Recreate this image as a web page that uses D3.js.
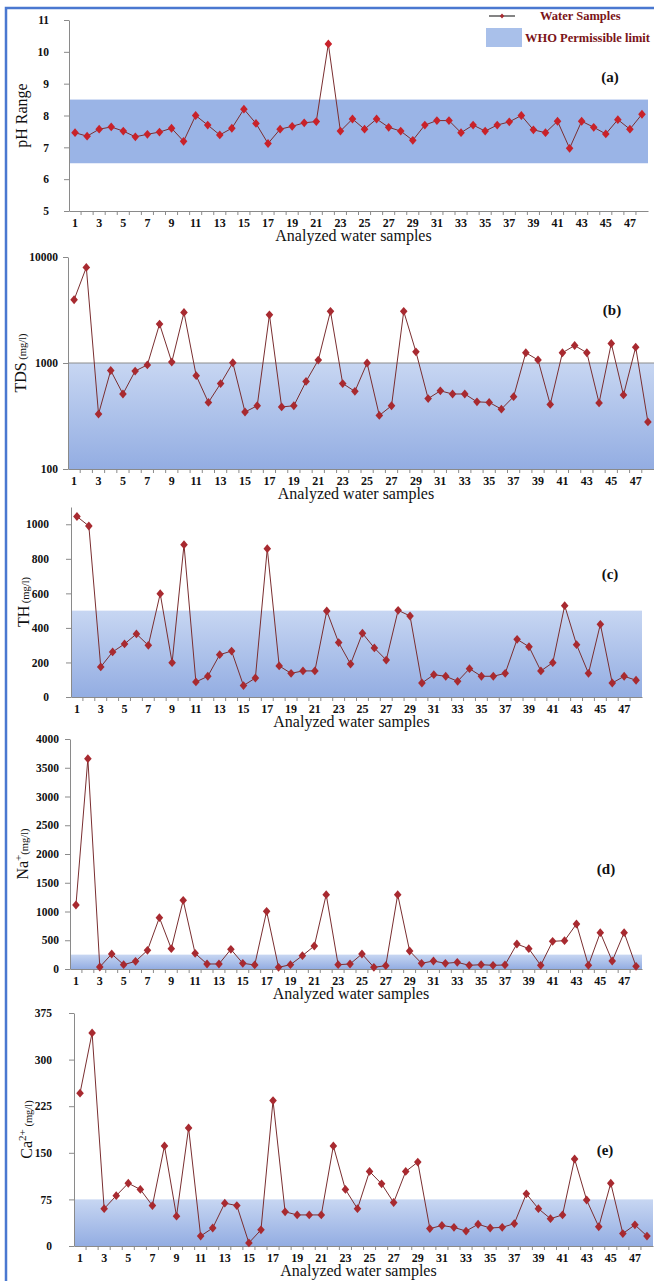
<!DOCTYPE html>
<html>
<head>
<meta charset="utf-8">
<script src="https://cdn.jsdelivr.net/npm/d3@7"></script>
<style>
  body { margin: 0; background: #fff; }
  svg { display: block; font-family: 'Liberation Serif', 'Times New Roman', serif; }
  .axis path, .axis line { stroke: #8a8a8a; }
</style>
</head>
<body>
<div id="chart"></div>
<script>
// sample numbers on the x axis
const samples = [1,2,3,4,5,6,7,8,9,10,11,12,13,14,15,16,17,18,19,20,21,22,23,24,
  25,26,27,28,29,30,31,32,33,34,35,36,37,38,39,40,41,42,43,44,45,46,47,48];

// values
const phValues = [7.46,7.35,7.57,7.64,7.51,7.33,7.41,7.48,7.6,7.19,8.0,7.7,7.39,7.6,8.2,7.75,
  7.12,7.57,7.66,7.77,7.81,10.25,7.51,7.89,7.57,7.89,7.63,7.51,7.22,7.7,7.84,7.84,
  7.46,7.7,7.51,7.7,7.8,8.0,7.55,7.46,7.82,6.97,7.82,7.63,7.42,7.87,7.57,8.04];
const tdsValues = [3950,7980,330,850,510,840,960,2330,1020,3000,760,425,640,1005,345,395,
  2850,385,395,670,1065,3070,640,540,1000,320,395,3070,1275,462,546,510,
  510,430,425,367,481,1250,1068,407,1250,1462,1250,420,1527,500,1409,278];
const thValues = [1045,990,174,261,307,365,299,598,199,882,87,120,245,266,66,110,
  859,180,137,151,151,498,315,191,369,284,214,502,469,81,129,120,
  91,164,120,120,137,334,291,151,199,529,303,137,421,81,120,97];
const naValues = [1113,3658,35,261,75,133,325,893,354,1194,272,87,87,342,99,70,
  1003,29,75,232,400,1293,75,87,261,29,58,1293,313,99,139,99,
  116,64,75,64,70,435,354,64,481,493,783,64,632,139,632,46];
const caValues = [246,343,60,81,101,91,65,161,48,190,16,29,69,65,5,26,
  234,55,50,50,50,161,91,60,120,100,70,120,135,28,33,30,
  24,35,29,30,36,84,60,44,50,140,74,31,101,20,34,16];

// WHO permissible limits (shaded bands)
const phLimit = [6.5, 8.5];
const tdsLimit = [100, 1000];
const thLimit = [0, 500];
const naLimit = [0, 250];
const caLimit = [0, 75];

// y tick labels
const phTicks = [5,6,7,8,9,10,11];
const tdsTicks = [100,1000,10000];
const thTicks = [0,200,400,600,800,1000];
const naTicks = [0,500,1000,1500,2000,2500,3000,3500,4000];
const caTicks = [0,75,150,225,300,375];
const xTickLabels = samples.filter(d => d % 2 === 1);

const serif = "'Liberation Serif', 'Times New Roman', serif";
const width = 654, height = 1281;

const svg = d3.select('#chart').append('svg')
  .attr('width', width)
  .attr('height', height);

const defs = svg.append('defs');
const grad = defs.append('linearGradient')
  .attr('id', 'bandGrad')
  .attr('x1', 0).attr('y1', 0).attr('x2', 0).attr('y2', 1);
grad.append('stop').attr('offset', '0%').attr('stop-color', '#c7d6f2');
grad.append('stop').attr('offset', '100%').attr('stop-color', '#93ade2');

// outer frame
svg.append('rect')
  .attr('x', 6).attr('y', 8)
  .attr('width', 700).attr('height', 1400)
  .attr('fill', 'none')
  .attr('stroke', '#4a78d0')
  .attr('stroke-width', 2.5);

const panels = [
  { values: phValues, limit: phLimit, ticks: phTicks, domain: [5, 11], log: false, solid: true,
    label: [['pH Range', 16, null]], tag: '(a)',
    top: 20, bottom: 211, left: 69, right: 648, pad: 15, tagX: 610, tagY: 77 },
  { values: tdsValues, limit: tdsLimit, ticks: tdsTicks, domain: [100, 10000], log: true, limitLine: true,
    label: [['TDS', 16, null], [' (mg/l)', 10.5, null]], tag: '(b)',
    top: 257, bottom: 469, left: 68, right: 654, pad: 5, tagX: 612, tagY: 310 },
  { values: thValues, limit: thLimit, ticks: thTicks, domain: [0, 1100], log: false,
    label: [['TH', 16, null], [' (mg/l)', 10.5, null]], tag: '(c)',
    top: 507, bottom: 697, left: 71, right: 642, pad: 17, tagX: 610, tagY: 574 },
  { values: naValues, limit: naLimit, ticks: naTicks, domain: [0, 4000], log: false,
    label: [['Na', 16, null], ['+', 11, 'sup'], ['(mg/l)', 10.5, null]], tag: '(d)',
    top: 739, bottom: 969, left: 70, right: 642, pad: 6, tagX: 606, tagY: 869 },
  { values: caValues, limit: caLimit, ticks: caTicks, domain: [0, 375], log: false,
    label: [['Ca', 16, null], ['2+', 11, 'sup'], [' (mg/l)', 10.5, null]], tag: '(e)',
    top: 1013, bottom: 1246, left: 74, right: 653, pad: 17, tagX: 605, tagY: 1150 }
];

const diamond = 'M0,-4.4L3.8,0L0,4.4L-3.8,0Z';

panels.forEach(p => {
  const g = svg.append('g');

  const x = d3.scaleBand().domain(samples).range([p.left, p.right]).padding(0);
  const y = (p.log ? d3.scaleLog() : d3.scaleLinear())
    .domain(p.domain)
    .range([p.bottom, p.top]);

  // WHO band
  g.append('rect')
    .attr('x', p.left)
    .attr('y', y(p.limit[1]))
    .attr('width', p.right - p.left)
    .attr('height', y(p.limit[0]) - y(p.limit[1]))
    .attr('fill', p.solid ? '#9ab4e6' : 'url(#bandGrad)');

  if (p.limitLine) {
    g.append('line')
      .attr('x1', p.left).attr('x2', p.right)
      .attr('y1', y(p.limit[1])).attr('y2', y(p.limit[1]))
      .attr('stroke', '#8c8c8c').attr('stroke-width', 1);
  }

  // y axis
  const yAxis = d3.axisLeft(y)
    .tickValues(p.ticks)
    .tickFormat(d3.format('d'))
    .tickSizeInner(5)
    .tickSizeOuter(0)
    .tickPadding(p.pad);
  const yg = g.append('g')
    .attr('class', 'axis')
    .attr('transform', `translate(${p.left},0)`)
    .call(yAxis)
    .attr('font-family', serif);
  yg.selectAll('text')
    .style('font-family', serif)
    .style('font-weight', 'bold')
    .style('font-size', '11.5px')
    .attr('fill', '#111');

  // x axis (labels on odd samples, tick marks between categories)
  const xAxis = d3.axisBottom(x)
    .tickValues(xTickLabels)
    .tickSize(0)
    .tickPadding(7);
  const xg = g.append('g')
    .attr('class', 'axis')
    .attr('transform', `translate(0,${p.bottom})`)
    .call(xAxis)
    .attr('font-family', serif);
  xg.selectAll('text')
    .style('font-family', serif)
    .style('font-weight', 'bold')
    .style('font-size', '12px')
    .attr('fill', '#111');
  xg.selectAll('.minor')
    .data(samples.slice(1))
    .enter().append('line')
    .attr('class', 'minor')
    .attr('x1', d => x(d)).attr('x2', d => x(d))
    .attr('y1', 0).attr('y2', 4)
    .attr('stroke', '#8a8a8a');

  // series line + markers
  const line = d3.line()
    .x((d, i) => x(samples[i]) + x.bandwidth() / 2)
    .y(d => y(d));
  g.append('path')
    .datum(p.values)
    .attr('d', line)
    .attr('fill', 'none')
    .attr('stroke', '#7a2e30')
    .attr('stroke-width', 1);
  g.selectAll('.pt')
    .data(p.values)
    .enter().append('path')
    .attr('class', 'pt')
    .attr('d', diamond)
    .attr('transform', (d, i) => `translate(${x(samples[i]) + x.bandwidth() / 2},${y(d)})`)
    .attr('fill', p.solid ? '#c8222a' : '#a82a30');

  // x title
  g.append('text')
    .attr('x', (p.left + p.right) / 2 - 5)
    .attr('y', p.bottom + 30)
    .attr('text-anchor', 'middle')
    .style('font-size', '16px')
    .attr('fill', '#111')
    .text('Analyzed water samples');

  // y title
  const yt = g.append('text')
    .attr('transform', `translate(${p.left - 42},${(p.top + p.bottom) / 2}) rotate(-90)`)
    .attr('text-anchor', 'middle')
    .attr('fill', '#111');
  p.label.forEach(part => {
    const ts = yt.append('tspan')
      .style('font-size', part[1] + 'px')
      .text(part[0]);
    if (part[2] === 'sup') ts.attr('baseline-shift', 'super');
  });

  // panel tag
  g.append('text')
    .attr('x', p.tagX).attr('y', p.tagY)
    .attr('text-anchor', 'middle')
    .attr('dominant-baseline', 'central')
    .style('font-size', '15px')
    .style('font-weight', 'bold')
    .attr('fill', '#111')
    .text(p.tag);
});

// legend
const lg = svg.append('g');
lg.append('line')
  .attr('x1', 489).attr('x2', 515).attr('y1', 16).attr('y2', 16)
  .attr('stroke', '#333').attr('stroke-width', 1.2);
lg.append('path')
  .attr('d', 'M0,-2.5L2.2,0L0,2.5L-2.2,0Z')
  .attr('transform', 'translate(502,16)')
  .attr('fill', '#a82a30');
lg.append('text')
  .attr('x', 540).attr('y', 20)
  .style('font-size', '12.5px').style('font-weight', 'bold')
  .attr('fill', '#7a1418')
  .text('Water Samples');
lg.append('rect')
  .attr('x', 486).attr('y', 28).attr('width', 36).attr('height', 19)
  .attr('fill', '#a9c0ea');
lg.append('text')
  .attr('x', 525).attr('y', 42)
  .style('font-size', '12.5px').style('font-weight', 'bold')
  .attr('fill', '#7a1418')
  .text('WHO Permissible limit');
</script>
</body>
</html>
